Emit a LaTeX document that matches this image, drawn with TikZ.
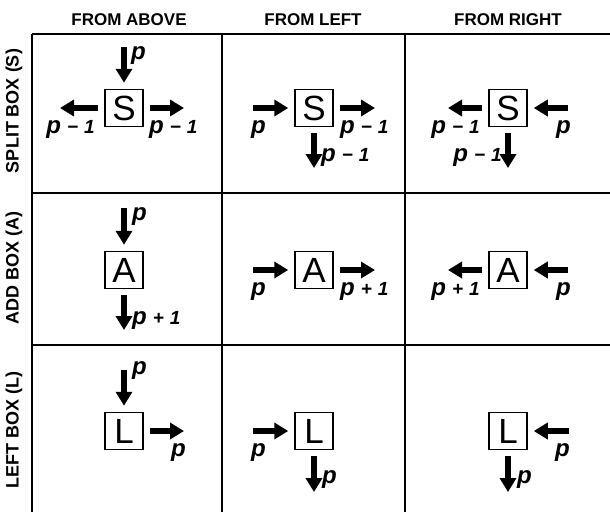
\documentclass[tikz,border=0pt]{standalone}
\usepackage{fontspec}
\setmainfont{Liberation Sans}
\usetikzlibrary{arrows.meta}
\newcommand\pvar{{\fontsize{24}{24}\selectfont p}}
\newcommand\pminus{\pvar\hspace{6pt}−\hspace{6pt}1}
\newcommand\pplus{\pvar\hspace{6pt}+\hspace{6pt}1}
\begin{document}
\begin{tikzpicture}[x=1pt,y=-1pt,
  grid/.style={line width=2pt},
  lbox/.style={draw,line width=1.5pt,minimum width=38pt,minimum height=37pt,inner sep=0pt,font=\fontsize{35}{35}\selectfont},
  flow/.style={line width=6pt,-{Triangle[length=14pt,width=16pt]}},
  fin/.style={flow,shorten >=6pt},
  fout/.style={flow,shorten <=6pt},
  lab/.style={inner sep=0pt,font=\fontsize{19}{19}\selectfont\bfseries\itshape},
  head/.style={inner sep=0pt,font=\fontsize{17}{17}\selectfont\bfseries},
  rowlab/.style={inner sep=0pt,font=\fontsize{18}{18}\selectfont\bfseries,rotate=90}]
\useasboundingbox (0,0) rectangle (610,512);
% grid
\draw[grid] (32,34) -- (610,34);
\draw[grid] (32,193) -- (610,193);
\draw[grid] (32,345) -- (610,345);
\draw[grid] (32,34) -- (32,512);
\draw[grid] (222,34) -- (222,512);
\draw[grid] (405,34) -- (405,512);
% headers
\node[head,anchor=base] (h1) at (129,25) {FROM ABOVE};
\node[head,anchor=base] (h2) at (313,25) {FROM LEFT};
\node[head,anchor=base] (h3) at (508,25) {FROM RIGHT};
\node[rowlab] (r1) at (14,111) {SPLIT BOX (S)};
\node[rowlab] (r2) at (14,268) {ADD BOX (A)};
\node[rowlab] (r3) at (14,430) {LEFT BOX (L)};
% row 1
\node[lbox] (s1) at (124,108) {S};
\coordinate (s1t) at (124,47);
\coordinate (s1l) at (60,108);
\coordinate (s1r) at (184,108);
\draw[fin] (s1t) -- (s1);
\draw[fout] (s1) -- (s1l);
\draw[fout] (s1) -- (s1r);
\node[lab,anchor=base west] (s1a) at (131,59) {\pvar};
\node[lab,anchor=base east] (s1b) at (95,133) {\pminus};
\node[lab,anchor=base west] (s1c) at (149,133) {\pminus};

\node[lbox] (s2) at (314,108) {S};
\coordinate (s2i) at (253,108);
\coordinate (s2r) at (375,108);
\coordinate (s2d) at (314,168);
\draw[fin] (s2i) -- (s2);
\draw[fout] (s2) -- (s2r);
\draw[fout] (s2) -- (s2d);
\node[lab,anchor=base west] (s2a) at (251,133) {\pvar};
\node[lab,anchor=base west] (s2b) at (340,133) {\pminus};
\node[lab,anchor=base west] (s2c) at (321,161) {\pminus};

\node[lbox] (s3) at (508,108) {S};
\coordinate (s3i) at (568,108);
\coordinate (s3l) at (448,108);
\coordinate (s3d) at (508,168);
\draw[fin] (s3i) -- (s3);
\draw[fout] (s3) -- (s3l);
\draw[fout] (s3) -- (s3d);
\node[lab,anchor=base east] (s3a) at (480,133) {\pminus};
\node[lab,anchor=base west] (s3b) at (556,133) {\pvar};
\node[lab,anchor=base east] (s3c) at (502,161) {\pminus};
% row 2
\node[lbox] (a1) at (124,270) {A};
\coordinate (a1t) at (124,208);
\coordinate (a1d) at (124,330);
\draw[fin] (a1t) -- (a1);
\draw[fout] (a1) -- (a1d);
\node[lab,anchor=base west] (a1a) at (132,220) {\pvar};
\node[lab,anchor=base west] (a1b) at (132,324) {\pplus};

\node[lbox] (a2) at (314,270) {A};
\coordinate (a2i) at (253,270);
\coordinate (a2r) at (375,270);
\draw[fin] (a2i) -- (a2);
\draw[fout] (a2) -- (a2r);
\node[lab,anchor=base west] (a2a) at (251,295) {\pvar};
\node[lab,anchor=base west] (a2b) at (340,295) {\pplus};

\node[lbox] (a3) at (508,270) {A};
\coordinate (a3i) at (568,270);
\coordinate (a3l) at (448,270);
\draw[fin] (a3i) -- (a3);
\draw[fout] (a3) -- (a3l);
\node[lab,anchor=base east] (a3a) at (480,295) {\pplus};
\node[lab,anchor=base west] (a3b) at (556,295) {\pvar};
% row 3
\node[lbox] (l1) at (124,431) {L};
\coordinate (l1t) at (124,370);
\coordinate (l1r) at (184,431);
\draw[fin] (l1t) -- (l1);
\draw[fout] (l1) -- (l1r);
\node[lab,anchor=base west] (l1a) at (132,374) {\pvar};
\node[lab,anchor=base west] (l1b) at (171,456) {\pvar};

\node[lbox] (l2) at (314,431) {L};
\coordinate (l2i) at (253,431);
\coordinate (l2d) at (314,492);
\draw[fin] (l2i) -- (l2);
\draw[fout] (l2) -- (l2d);
\node[lab,anchor=base west] (l2a) at (251,456) {\pvar};
\node[lab,anchor=base west] (l2b) at (322,483) {\pvar};

\node[lbox] (l3) at (508,431) {L};
\coordinate (l3i) at (569,431);
\coordinate (l3d) at (508,492);
\draw[fin] (l3i) -- (l3);
\draw[fout] (l3) -- (l3d);
\node[lab,anchor=base west] (l3a) at (555,456) {\pvar};
\node[lab,anchor=base west] (l3b) at (517,483) {\pvar};
\end{tikzpicture}
\end{document}
